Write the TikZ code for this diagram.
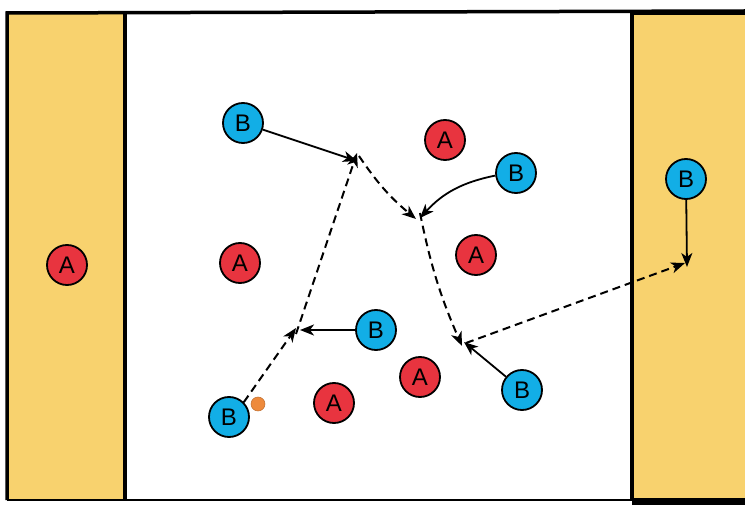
\documentclass[tikz,border=0pt]{standalone}
\usepackage{fontspec}
\setmainfont{Liberation Sans}
\usetikzlibrary{arrows.meta}
\definecolor{pyellow}{HTML}{F8D26E}
\definecolor{pblue}{HTML}{12AEE6}
\definecolor{pred}{HTML}{E8343F}
\definecolor{porange}{HTML}{EE8A3C}
\tikzset{
  pl/.style={circle, draw=black, line width=1.8pt, minimum size=40pt, inner sep=0pt, font=\fontsize{24}{24}\selectfont},
  plb/.style={pl, fill=pblue},
  pla/.style={pl, fill=pred},
  run/.style={line width=1.8pt, -{Stealth[length=14pt,width=11pt,inset=4pt]}},
  pass/.style={line width=2pt, dash pattern=on 8pt off 5pt, -{Stealth[length=14pt,width=11pt,inset=4pt]}},
}
\begin{document}
\begin{tikzpicture}[x=1pt,y=-1pt]
\useasboundingbox (0,0) rectangle (745,505);
% fields
\fill[pyellow] (7,13) rectangle (125,500);
\fill[pyellow] (632,13) rectangle (745,498);
\fill[black] (632,498) rectangle (745,505);
\draw[line width=3.5pt] (7,500) -- (7,13) -- (745,11);
\draw[line width=2pt] (7,500) -- (632,500);
\draw[line width=3.5pt] (125,13) -- (125,500);
\draw[line width=3.5pt] (632,12) -- (632,500);
\fill[black] (632,10) rectangle (745,15);
% players
\node[pla] (a0) at (67,265) {A};
\node[plb] (b1) at (243,123) {B};
\node[pla] (a1) at (445,140) {A};
\node[plb] (b2) at (516,173) {B};
\node[pla] (a2) at (240,263) {A};
\node[pla] (a3) at (476,255) {A};
\node[plb] (b3) at (376,330) {B};
\node[pla] (a4) at (420,377) {A};
\node[pla] (a5) at (334,403) {A};
\node[plb] (b4) at (229,417) {B};
\node[plb] (b5) at (522,390) {B};
\node[plb] (b6) at (686,179) {B};
\node[circle, fill=porange, draw=porange!80!black, line width=0.5pt, minimum size=14pt, inner sep=0pt] (ball) at (258,404) {};
% points
\coordinate (p1) at (357,161);
\coordinate (p2) at (420,218);
\coordinate (p3) at (464,342);
\coordinate (p4) at (296,330);
\coordinate (p5) at (687,267);
% movements
\draw[run] (b1) -- (p1);
\draw[run] (b2) to[bend right=18] (p2);
\draw[run] (b5) -- (p3);
\draw[run] (b3) -- ([xshift=4pt]p4);
\draw[run] (b6) -- (p5);
% passes
\draw[pass] (b4.north east) -- ([yshift=2pt]p4);
\draw[pass] ([yshift=-4pt]p4) -- ([yshift=8pt]p1);
\draw[pass] ([xshift=2pt,yshift=5pt]p1) to[bend right=8] ([xshift=-4pt,yshift=-1pt]p2);
\draw[pass] ([yshift=5pt]p2) to[bend right=6] ([xshift=-2pt,yshift=-4pt]p3);
\draw[pass] ([xshift=2pt,yshift=-1pt]p3) -- ([xshift=-2pt,yshift=4pt]p5);
\end{tikzpicture}
\end{document}
